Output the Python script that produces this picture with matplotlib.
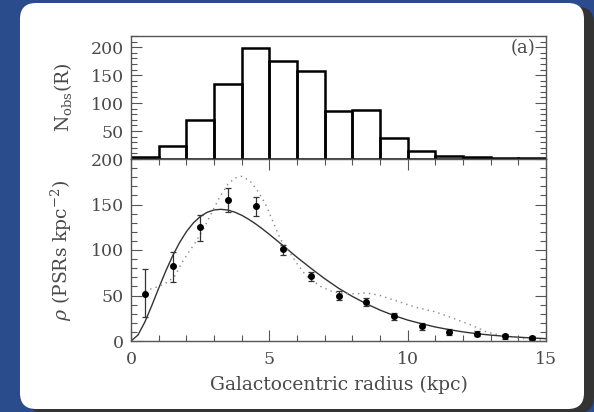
import matplotlib
matplotlib.use("Agg")
import matplotlib.pyplot as plt
from matplotlib.patches import FancyBboxPatch
from matplotlib.ticker import MultipleLocator

plt.rcParams["font.family"] = ["DejaVu Serif"]
plt.rcParams["mathtext.fontset"] = "dejavuserif"

# --- observed pulsar counts per 1 kpc bin ----------------------------------
bin_edges = list(range(0, 16))
n_obs = [4, 24, 70, 134, 198, 176, 158, 86, 87, 38, 14, 6, 4, 2, 2]

# --- derived surface density with errors -----------------------------------
r_pts = [0.5, 1.5, 2.5, 3.5, 4.5, 5.5, 6.5, 7.5, 8.5, 9.5, 10.5, 11.5, 12.5, 13.5, 14.5]
rho_pts = [52, 82, 125, 155, 148, 101, 71, 50, 43, 27, 16, 10, 8, 5, 3]
rho_lo = [26, 17, 15, 13, 11, 6, 5, 5, 4, 4, 4, 3, 3, 3, 2]
rho_hi = [27, 16, 14, 13, 10, 5, 5, 5, 4, 4, 4, 3, 3, 3, 2]

# --- best-fit model (solid) -------------------------------------------------
r_fit = [0, 0.25, 0.5, 0.75, 1.0, 1.25, 1.5, 1.75, 2.0, 2.25, 2.5, 2.75,
         3.0, 3.25, 3.5, 3.75, 4.0, 4.25, 4.5, 4.75, 5.0, 5.5,
         6.0, 6.5, 7.0, 7.5, 8.0, 8.5, 9.0, 9.5, 10.0, 10.5, 11.0, 11.5,
         12.0, 12.5, 13.0, 13.5, 14.0, 14.5, 15.0]
rho_fit = [0, 6.5, 20.8, 38.8, 57.9, 76.4, 93.2, 107.9, 120, 129.6, 136.7, 141.4,
           144, 144.7, 143.9, 141.6, 138.2, 133.8, 128.8, 123.2, 117.2, 104.7,
           92, 80, 68.5, 58, 49, 41, 34, 28, 23, 19, 15.4, 12.5,
           10, 8, 6.5, 5.2, 4.2, 3.3, 2.6]

# --- alternative model (dotted) ---------------------------------------------
r_alt = [0.5, 1.0, 1.35, 1.6, 1.8, 2.05, 2.3, 2.6, 2.9, 3.2, 3.5, 3.75, 4.0,
         4.3, 4.6, 4.85, 5.15, 5.4, 5.65, 6.0, 6.35, 6.85, 7.3, 7.8, 8.3,
         8.5, 9.0, 9.5, 10.3, 11.0, 11.65, 12.25, 12.85, 13.45, 14.05, 14.9]
rho_alt = [55, 60, 65, 72, 84, 96, 107, 122, 140, 158, 172, 179, 181,
           176, 164, 151, 130, 112, 101, 85, 71, 60, 54, 52, 52,
           53, 50, 45, 37, 32, 25, 18, 10, 5.5, 3, 1]

W, H = 594, 412
fig = plt.figure(figsize=(W / 100, H / 100), dpi=100)
fig.patch.set_facecolor("#2b4c8c")

# card + drop shadow, drawn in pixel coordinates
bg = fig.add_axes([0, 0, 1, 1])
bg.set_xlim(0, W)
bg.set_ylim(H, 0)
bg.axis("off")
bg.add_patch(FancyBboxPatch((28, 7), 566, 406, boxstyle="round,pad=0,rounding_size=16",
                            fc="#333333", ec="none"))
bg.add_patch(FancyBboxPatch((20, 3), 564, 406, boxstyle="round,pad=0,rounding_size=16",
                            fc="white", ec="none"))

TXT = "#4a4a4a"
SPINE = "#555555"


def style_axes(ax):
    for s in ax.spines.values():
        s.set_color(SPINE)
        s.set_linewidth(1.0)
    ax.tick_params(which="both", direction="in", colors=SPINE, labelcolor=TXT,
                   labelsize=12.5, width=0.8, pad=5)
    ax.tick_params(axis="x", pad=7)
    ax.tick_params(which="major", length=8)
    ax.tick_params(which="minor", length=4)
    ax.xaxis.set_major_locator(MultipleLocator(5))
    ax.xaxis.set_minor_locator(MultipleLocator(1))
    ax.yaxis.set_major_locator(MultipleLocator(50))
    ax.yaxis.set_minor_locator(MultipleLocator(10))


ax1 = fig.add_axes([131 / W, 1 - 159 / H, 415 / W, 123 / H])
ax2 = fig.add_axes([131 / W, 1 - 341 / H, 415 / W, 182 / H])

# upper panel: histogram of observed counts
ax1.bar(bin_edges[:-1], n_obs, width=1, align="edge", fill=False,
        edgecolor="black", linewidth=1.8)
ax1.set_xlim(0, 15)
ax1.set_ylim(0, 220)
style_axes(ax1)
ax1.tick_params(which="both", left=True, right=True, top=False, bottom=False,
                labelbottom=False)
ax1.set_yticks([50, 100, 150, 200])
ax1.set_ylabel(r"N$_{\rm obs}$(R)", color=TXT, fontsize=13.5, labelpad=12)
ax1.text(0.975, 0.9, "(a)", transform=ax1.transAxes, ha="right", va="center",
         color=TXT, fontsize=13)

# lower panel: density profile
ax2.plot(r_fit, rho_fit, color="#333333", lw=1.0)
ax2.plot(r_alt, rho_alt, color="#888888", lw=1.0, linestyle=(0, (1, 3)))
ax2.errorbar(r_pts, rho_pts, yerr=[rho_lo, rho_hi], fmt="o", color="black",
             ms=4, ecolor="#333333", elinewidth=0.9, capsize=2.5, capthick=0.9)
ax2.set_xlim(0, 15)
ax2.set_ylim(0, 200)
style_axes(ax2)
ax2.tick_params(which="both", left=True, right=True, top=True, bottom=True)
ax2.set_xticks([0, 5, 10, 15])
ax2.set_xlabel("Galactocentric radius (kpc)", color=TXT, fontsize=13.5, labelpad=6)
ax2.set_ylabel(r"$\rho$ (PSRs kpc$^{-2}$)", color=TXT, fontsize=13.5, labelpad=12)

fig.savefig("out.png", dpi=100, facecolor=fig.get_facecolor())
